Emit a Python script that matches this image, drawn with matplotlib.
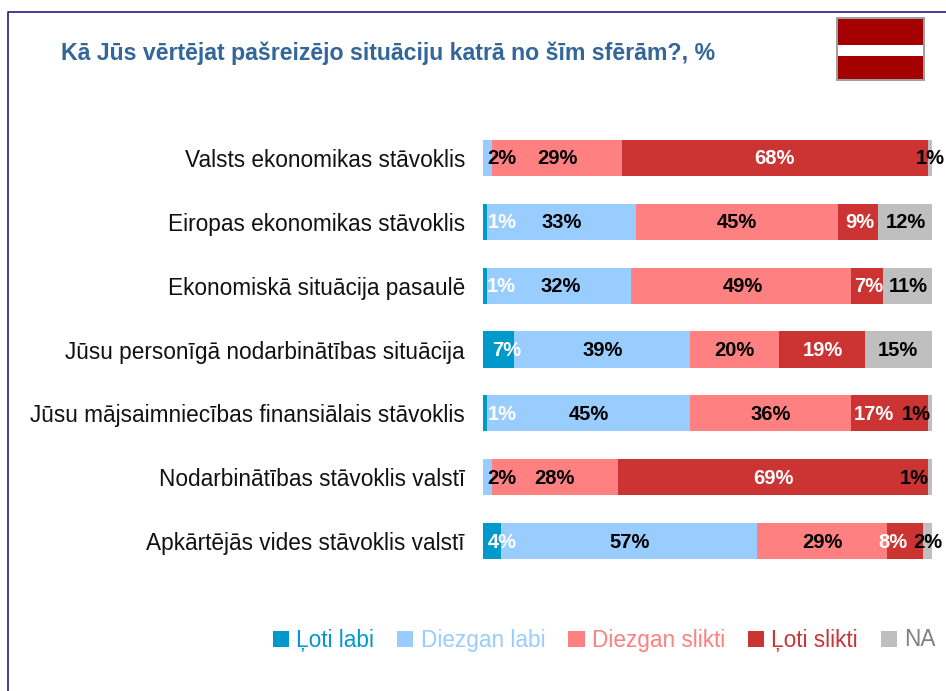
import matplotlib
matplotlib.use("Agg")
import matplotlib.pyplot as plt
import numpy as np
from matplotlib.lines import Line2D
from matplotlib.patches import Rectangle

plt.rcParams["font.family"] = ["Liberation Sans", "DejaVu Sans"]

categories = [
    "Valsts ekonomikas stāvoklis",
    "Eiropas ekonomikas stāvoklis",
    "Ekonomiskā situācija pasaulē",
    "Jūsu personīgā nodarbinātības situācija",
    "Jūsu mājsaimniecības finansiālais stāvoklis",
    "Nodarbinātības stāvoklis valstī",
    "Apkārtējās vides stāvoklis valstī",
]
series_names = ["Ļoti labi", "Diezgan labi", "Diezgan slikti", "Ļoti slikti", "NA"]
loti_labi = [0, 1, 1, 7, 1, 0, 4]
diezgan_labi = [2, 33, 32, 39, 45, 2, 57]
diezgan_slikti = [29, 45, 49, 20, 36, 28, 29]
loti_slikti = [68, 9, 7, 19, 17, 69, 8]
na_values = [1, 12, 11, 15, 1, 1, 2]

colors = ["#0099CC", "#99CCFF", "#FF8080", "#CC3333", "#BFBFBF"]
text_colors = ["#0099CC", "#99CCFF", "#FF8080", "#CC3333", "#808080"]
label_colors = ["white", "black", "black", "white", "black"]

# label shifts in pixels, the original labels are not centred in small segments
nudges = [
    [0, 14, 0, 0, 0],
    [17, 0, 0, 2, 1],
    [16, 1, 2, 2, 1],
    [8, 1, 0, 1, 0],
    [17, 0, 0, -15, -14],
    [0, 14, 0, 1, -16],
    [10, 1, 0, -12, 0],
]

W, H = 946, 691
fig = plt.figure(figsize=(W / 100, H / 100), dpi=100)


def fx(px):
    return px / W


def fy(py):
    return 1 - py / H


ax = fig.add_axes([fx(483), fy(573), fx(449), (573 - 126) / H])

values = np.array([loti_labi, diezgan_labi, diezgan_slikti, loti_slikti, na_values], dtype=float)
y = np.arange(len(categories))
left = np.zeros(len(categories))
for i, name in enumerate(series_names):
    ax.barh(y, values[i], left=left, height=0.564, color=colors[i], label=name)
    for j in y:
        if values[i][j] > 0:
            ax.annotate(
                f"{values[i][j]:.0f}%",
                (left[j] + values[i][j] / 2, j),
                xytext=(nudges[j][i], -1),
                textcoords="offset pixels",
                ha="center",
                va="center",
                fontsize=14.5,
                fontweight="bold",
                color=label_colors[i],
                annotation_clip=False,
            )
    left += values[i]

ax.set_xlim(0, 100)
ax.set_ylim(6.5, -0.5)
ax.set_xticks([])
ax.set_yticks(y)
ax.set_yticklabels(categories, fontsize=16.3, color="#111111")
ax.tick_params(axis="y", length=0, pad=13)
for side in ax.spines:
    ax.spines[side].set_visible(False)

fig.text(fx(61), fy(53), "Kā Jūs vērtējat pašreizējo situāciju katrā no šīm sfērām?, %",
         fontsize=16.7, fontweight="bold", color="#336699", va="center", ha="left")

# outer frame, only top and left are visible
fig.add_artist(Line2D([fx(8), fx(8), 1], [0, fy(12), fy(12)], color="#1F1F80", linewidth=1.2))

# flag
fig.add_artist(Rectangle((fx(837), fy(80)), fx(87), 62 / H, facecolor="white", edgecolor="#8C8C8C", linewidth=1.2))
fig.add_artist(Rectangle((fx(838), fy(45)), fx(85), 26 / H, facecolor="#A50000", edgecolor="none"))
fig.add_artist(Rectangle((fx(838), fy(79)), fx(85), 23 / H, facecolor="#A50000", edgecolor="none"))

leg = fig.legend(
    *ax.get_legend_handles_labels(),
    loc="center left",
    bbox_to_anchor=(fx(273), fy(640)),
    ncol=5,
    frameon=False,
    fontsize=16.3,
    handlelength=0.71,
    handleheight=0.71,
    handletextpad=0.31,
    columnspacing=1.03,
    borderpad=0,
    borderaxespad=0,
)
for text, c in zip(leg.get_texts(), text_colors):
    text.set_color(c)

fig.savefig("out.png", dpi=100)
